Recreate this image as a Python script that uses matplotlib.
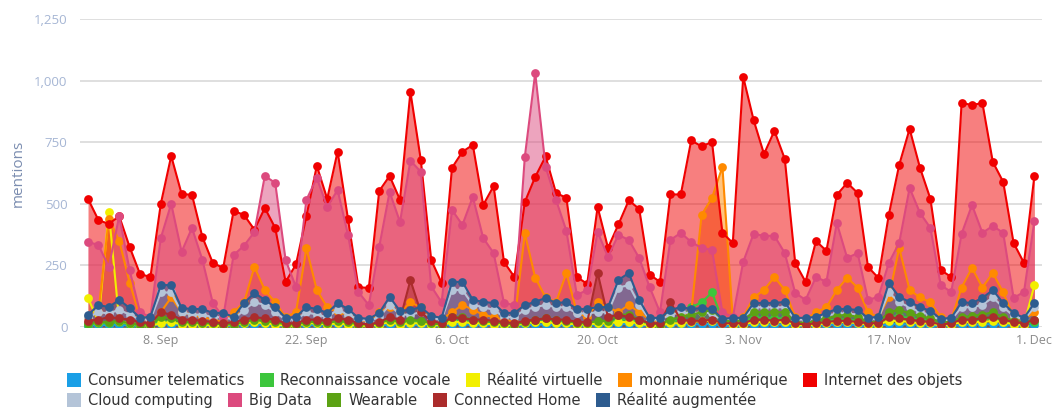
import matplotlib
matplotlib.use("Agg")
import matplotlib.pyplot as plt
from matplotlib.lines import Line2D
import pandas as pd

plt.rcParams['font.family'] = ['Open Sans', 'DejaVu Sans']

dates = pd.date_range("2014-09-01", periods=92, freq="D")

tick_dates = ["2014-09-08", "2014-09-22", "2014-10-06", "2014-10-20",
              "2014-11-03", "2014-11-17", "2014-12-01"]
tick_labels = ["8. Sep", "22. Sep", "6. Oct", "20. Oct", "3. Nov", "17. Nov", "1. Dec"]
y_ticks = [0, 250, 500, 750, 1000, 1250]
y_labels = ["0", "250", "500", "750", "1,000", "1,250"]

telematics = [5, 8, 8, 10, 5, 3, 3, 12, 10, 8,
              8, 6, 5, 3, 5, 8, 10, 8, 6, 3,
              3, 8, 8, 5, 10, 6, 3, 3, 5, 10,
              6, 8, 8, 5, 3, 12, 12, 8, 8, 6,
              5, 3, 8, 10, 10, 8, 8, 5, 5, 8,
              8, 12, 12, 8, 3, 3, 8, 10, 10, 12,
              12, 5, 3, 5, 10, 10, 10, 10, 3, 3,
              5, 8, 10, 10, 8, 3, 3, 12, 12, 10,
              8, 6, 3, 3, 8, 10, 10, 12, 8, 5,
              3, 8]
vocale = [10, 15, 15, 20, 10, 5, 5, 25, 20, 15,
          15, 10, 10, 5, 10, 15, 20, 15, 15, 5,
          5, 15, 15, 10, 20, 15, 5, 5, 10, 20,
          15, 20, 20, 10, 5, 25, 25, 20, 20, 15,
          10, 5, 15, 20, 25, 20, 20, 10, 10, 15,
          15, 30, 30, 20, 10, 5, 20, 30, 80, 100,
          140, 30, 10, 20, 40, 35, 35, 35, 10, 10,
          15, 25, 30, 30, 25, 10, 10, 40, 45, 35,
          30, 25, 10, 10, 25, 30, 30, 35, 25, 15,
          10, 20]
virtuelle = [118, 20, 467, 25, 15, 10, 5, 15, 20, 10,
             10, 10, 5, 5, 10, 15, 20, 15, 10, 5,
             5, 15, 15, 10, 15, 10, 5, 5, 10, 20,
             10, 15, 15, 10, 5, 20, 20, 15, 15, 10,
             10, 5, 15, 20, 20, 15, 15, 10, 10, 15,
             15, 20, 20, 15, 5, 5, 15, 15, 20, 25,
             25, 15, 10, 10, 20, 20, 20, 20, 10, 5,
             10, 15, 20, 20, 15, 10, 10, 25, 25, 20,
             15, 15, 5, 10, 20, 20, 20, 25, 20, 10,
             10, 170]
monnaie = [40, 60, 440, 350, 180, 40, 20, 60, 120, 60,
           50, 40, 30, 20, 60, 100, 244, 150, 100, 40,
           60, 320, 150, 80, 60, 50, 30, 20, 60, 80,
           60, 100, 80, 40, 30, 60, 90, 70, 50, 40,
           30, 20, 380, 200, 120, 100, 219, 60, 40, 100,
           80, 60, 90, 60, 30, 20, 60, 50, 60, 455,
           524, 650, 30, 40, 120, 150, 203, 150, 40, 30,
           60, 80, 150, 200, 160, 60, 40, 120, 321, 150,
           120, 100, 40, 30, 160, 240, 160, 220, 140, 40,
           30, 60]
internet = [520, 434, 418, 450, 325, 215, 203, 500, 694, 540,
            536, 365, 260, 240, 471, 455, 395, 483, 402, 183,
            254, 450, 654, 520, 712, 438, 162, 158, 552, 613,
            516, 954, 678, 272, 179, 646, 711, 739, 495, 572,
            264, 203, 507, 609, 692, 544, 524, 203, 175, 487,
            321, 416, 514, 479, 213, 183, 538, 538, 757, 733,
            751, 382, 341, 1015, 840, 702, 796, 682, 260, 183,
            349, 309, 536, 585, 544, 244, 199, 455, 658, 804,
            646, 520, 231, 203, 909, 901, 909, 670, 589, 341,
            260, 613]
cloud = [40, 60, 55, 70, 50, 30, 30, 140, 140, 60,
         50, 50, 40, 40, 30, 70, 100, 90, 60, 30,
         30, 60, 50, 40, 70, 50, 30, 25, 40, 90,
         50, 50, 60, 35, 30, 150, 150, 90, 80, 70,
         40, 40, 70, 80, 90, 80, 80, 55, 55, 60,
         60, 160, 170, 90, 30, 30, 50, 60, 55, 60,
         55, 25, 30, 30, 80, 80, 80, 80, 30, 30,
         35, 45, 55, 55, 50, 30, 35, 140, 100, 80,
         60, 50, 25, 30, 80, 80, 90, 120, 80, 45,
         30, 80]
bigdata = [345, 333, 244, 450, 231, 60, 40, 361, 500, 305,
           402, 272, 97, 40, 292, 330, 385, 613, 585, 272,
           162, 516, 605, 487, 556, 374, 142, 89, 325, 548,
           426, 675, 630, 165, 100, 475, 414, 528, 361, 300,
           97, 89, 690, 1031, 650, 516, 390, 130, 150, 386,
           284, 374, 353, 280, 162, 60, 353, 382, 345, 321,
           313, 60, 40, 264, 378, 370, 370, 300, 138, 110,
           203, 183, 422, 280, 300, 110, 122, 260, 341, 564,
           463, 402, 170, 142, 378, 495, 382, 410, 382, 118,
           142, 430]
wearable = [15, 20, 20, 25, 15, 10, 10, 40, 35, 20,
            20, 15, 15, 10, 10, 20, 30, 25, 20, 10,
            10, 20, 20, 15, 25, 20, 10, 10, 15, 30,
            20, 30, 25, 15, 10, 40, 40, 30, 25, 20,
            15, 10, 20, 30, 35, 30, 25, 15, 15, 25,
            25, 50, 50, 30, 15, 10, 30, 40, 50, 60,
            70, 30, 20, 30, 60, 60, 60, 60, 20, 15,
            25, 35, 45, 50, 40, 20, 20, 60, 70, 55,
            45, 35, 20, 20, 40, 45, 50, 60, 40, 25,
            20, 30]
home = [25, 30, 40, 35, 30, 20, 15, 60, 50, 30,
        30, 25, 20, 15, 20, 30, 40, 35, 30, 15,
        15, 30, 30, 25, 35, 30, 15, 10, 20, 40,
        30, 190, 60, 25, 15, 40, 35, 30, 30, 25,
        20, 15, 25, 30, 35, 30, 30, 20, 20, 220,
        40, 50, 40, 30, 15, 15, 100, 30, 25, 25,
        30, 15, 15, 15, 30, 30, 25, 30, 15, 10,
        15, 20, 25, 25, 20, 15, 15, 40, 35, 30,
        25, 20, 10, 15, 30, 30, 35, 40, 30, 20,
        15, 30]
augmentee = [49, 89, 81, 110, 77, 37, 41, 170, 170, 77,
             73, 73, 57, 57, 41, 97, 138, 110, 81, 37,
             41, 81, 73, 57, 97, 73, 37, 33, 57, 122,
             65, 69, 81, 45, 37, 183, 183, 110, 102, 97,
             57, 57, 89, 102, 118, 97, 101, 73, 73, 81,
             80, 191, 219, 110, 37, 37, 69, 81, 73, 77,
             73, 33, 37, 37, 97, 97, 97, 102, 37, 37,
             41, 57, 73, 73, 69, 37, 41, 179, 122, 102,
             81, 65, 33, 37, 101, 97, 118, 150, 97, 57,
             37, 97]

series = [
    ("Consumer telematics", telematics, "#1a9fe6"),
    ("Reconnaissance vocale", vocale, "#3cc63c"),
    ("Réalité virtuelle", virtuelle, "#f2ef00"),
    ("monnaie numérique", monnaie, "#ff8a00"),
    ("Internet des objets", internet, "#f00000"),
    ("Cloud computing", cloud, "#b4c4d8"),
    ("Big Data", bigdata, "#dc4a7e"),
    ("Wearable", wearable, "#5ca214"),
    ("Connected Home", home, "#ab2c2c"),
    ("Réalité augmentée", augmentee, "#2e5c8f"),
]

fig = plt.figure(figsize=(10.54, 4.11), dpi=100)
ax = fig.add_axes([0.0759, 0.2044, 0.9127, 0.7494])

for name, vals, col in series:
    ax.fill_between(dates, 0, vals, color=col, alpha=0.5, linewidth=0)
    ax.plot(dates, vals, color=col, linewidth=1.5, marker="o",
            markersize=6.3, markeredgewidth=0)

ax.set_ylim(0, 1250)
ax.set_xlim(pd.Timestamp("2014-09-01") - pd.Timedelta(hours=18.5),
            pd.Timestamp("2014-12-01") + pd.Timedelta(hours=17.5))
ax.set_yticks(y_ticks)
ax.set_yticklabels(y_labels)
ax.set_xticks(pd.to_datetime(tick_dates))
ax.set_xticklabels(tick_labels)
ax.tick_params(axis="y", length=0, pad=9, labelsize=9.5, labelcolor="#a6b6d4")
ax.tick_params(axis="x", length=0, pad=5, labelsize=9, labelcolor="#8a8a8a")
ax.grid(axis="y", color="#d9d9d9", linewidth=1.2)
ax.set_axisbelow(True)
for s in ax.spines.values():
    s.set_visible(False)
ax.set_ylabel("mentions", fontsize=11, color="#7b8db0", labelpad=6)

handles = [Line2D([], [], marker="s", linestyle="", markersize=10,
                  markerfacecolor=c, markeredgewidth=0, label=n)
           for n, v, c in series]
leg_kw = dict(ncol=5, frameon=False, handlelength=1.0,
              handletextpad=0.45, columnspacing=1.05, borderpad=0,
              borderaxespad=0, labelcolor="#333333",
              prop={"family": ["DejaVu Sans"], "size": 10.5})
fig.legend(handles=handles[:5], loc="center left",
           bbox_to_anchor=(0.063, 0.075), **leg_kw)
fig.legend(handles=handles[5:], loc="center left",
           bbox_to_anchor=(0.063, 0.027), **leg_kw)

fig.savefig("out.png", dpi=100)
